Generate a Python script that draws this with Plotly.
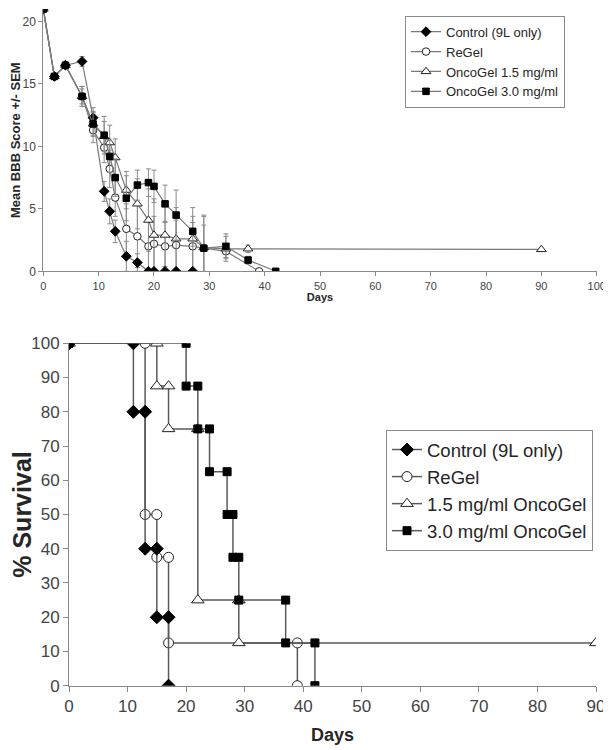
import plotly.graph_objects as go

# ---------------- Top panel data (Mean BBB score +/- SEM) ----------------
days_early = [0, 2, 4, 7, 9, 11, 12, 13, 15, 17, 19, 20, 22, 24, 27]

ctrl_days = days_early
ctrl_bbb = [21, 15.6, 16.5, 16.8, 12.3, 6.4, 4.8, 3.2, 1.2, 0.7, 0, 0, 0, 0, 0]
ctrl_sem = [0, 0, 0, 0.4, 0.8, 0.8, 1.0, 0.9, 1.2, 0.7, 0, 0, 0, 0, 0]

regel_days = days_early + [29, 33, 39]
regel_bbb = [21, 15.6, 16.5, 14.0, 11.3, 9.9, 8.2, 5.9, 3.4, 2.8, 2.0, 2.2, 2.0, 2.1, 2.0, 1.85, 1.6, 0]
regel_sem = [0, 0, 0, 0.8, 1.0, 1.2, 1.5, 1.5, 2.0, 2.5, 2.0, 2.2, 2.0, 2.0, 1.9, 1.85, 0.5, 0]

o15_days = days_early + [29, 33, 37, 90]
o15_bbb = [21, 15.6, 16.5, 14.0, 11.8, 10.8, 10.3, 9.1, 6.5, 5.4, 4.1, 2.9, 2.9, 2.6, 2.6, 1.9, 1.8, 1.8, 1.75]
o15_sem = [0, 0, 0, 0.8, 1.0, 1.2, 1.4, 1.5, 1.5, 2.0, 2.5, 2.9, 2.5, 2.5, 2.5, 2.5, 1.0, 0.3, 0]

o30_days = days_early + [29, 33, 37, 42]
o30_bbb = [21, 15.6, 16.5, 14.0, 11.8, 10.9, 9.2, 7.5, 5.85, 6.9, 7.1, 6.8, 5.4, 4.5, 3.2, 1.85, 2.0, 0.9, 0]
o30_sem = [0, 0, 0, 0.6, 0.9, 1.5, 1.3, 1.5, 1.8, 1.2, 1.1, 1.3, 1.5, 2.0, 1.2, 2.65, 1.0, 0.3, 0]

top_names = ["Control (9L only)", "ReGel", "OncoGel 1.5 mg/ml", "OncoGel 3.0 mg/ml"]
top_xticks = [0, 10, 20, 30, 40, 50, 60, 70, 80, 90, 100]
top_yticks = [0, 5, 10, 15, 20]

# ---------------- Bottom panel data (% survival) ----------------
surv_ctrl_t = [0, 11, 11, 13, 13, 15, 15, 17, 17]
surv_ctrl_s = [100, 100, 80, 80, 40, 40, 20, 20, 0]

surv_regel_t = [0, 13, 13, 15, 15, 17, 17, 39, 39]
surv_regel_s = [100, 100, 50, 50, 37.5, 37.5, 12.5, 12.5, 0]

surv_o15_t = [0, 15, 15, 17, 17, 22, 22, 29, 29, 90]
surv_o15_s = [100, 100, 87.5, 87.5, 75, 75, 25, 25, 12.5, 12.5]

surv_o30_t = [0, 20, 20, 22, 22, 24, 24, 27, 27, 28, 28, 29, 29, 37, 37, 42, 42]
surv_o30_s = [100, 100, 87.5, 87.5, 75, 75, 62.5, 62.5, 50, 50, 37.5, 37.5, 25, 25, 12.5, 12.5, 0]

bottom_names = ["Control (9L only)", "ReGel", "1.5 mg/ml OncoGel", "3.0 mg/ml OncoGel"]
bot_xticks = [0, 10, 20, 30, 40, 50, 60, 70, 80, 90]
bot_yticks = [0, 10, 20, 30, 40, 50, 60, 70, 80, 90, 100]

# page has an 8px body margin; figure sized to fit the 611x750 window
OFF = 8
W, H = 611 - OFF, 750 - OFF
LINE = "#7a7a7a"
TXT = "#262626"
FONT = "Liberation Sans, Arial, sans-serif"

fig = go.Figure()

styles = [
    dict(symbol="diamond", color="black", line=dict(color="black", width=1)),
    dict(symbol="circle", color="white", line=dict(color="#222", width=1)),
    dict(symbol="triangle-up", color="white", line=dict(color="#222", width=1)),
    dict(symbol="square", color="black", line=dict(color="black", width=1)),
]
top_sizes = [7.5, 7.5, 8.5, 6.5]

top_data = [
    (ctrl_days, ctrl_bbb, ctrl_sem),
    (regel_days, regel_bbb, regel_sem),
    (o15_days, o15_bbb, o15_sem),
    (o30_days, o30_bbb, o30_sem),
]
order = [1, 2, 0, 3]
for i in order:
    d, v, e = top_data[i]
    st = styles[i]
    fig.add_trace(go.Scatter(
        x=d, y=v, mode="lines+markers", name=top_names[i],
        line=dict(color=LINE, width=1.2),
        marker=dict(symbol=st["symbol"], color=st["color"], size=top_sizes[i], line=st["line"]),
        error_y=dict(type="data", array=e, visible=True, color="#8a8a8a", thickness=1, width=2.5),
        xaxis="x", yaxis="y", legend="legend", legendrank=i,
    ))

bot_data = [
    (surv_ctrl_t, surv_ctrl_s),
    (surv_regel_t, surv_regel_s),
    (surv_o15_t, surv_o15_s),
    (surv_o30_t, surv_o30_s),
]
bot_sizes = [10, 10, 11, 8]
for i in order:
    t, s = bot_data[i]
    st = styles[i]
    fig.add_trace(go.Scatter(
        x=t, y=s, mode="lines+markers", name=bottom_names[i],
        line=dict(color="#5a5a5a", width=1.5),
        marker=dict(symbol=st["symbol"], color=st["color"], size=bot_sizes[i], line=st["line"]),
        xaxis="x2", yaxis="y2", legend="legend2", legendrank=i,
    ))

def px_x(p):
    return (p - OFF) / W

def px_y(p):
    return 1 - (p - OFF) / H

axis_common = dict(showgrid=False, zeroline=False, showline=True, linecolor="#8a8a8a",
                   linewidth=1, ticks="outside", tickcolor="#8a8a8a", automargin=False)

fig.update_layout(
    width=W, height=H,
    margin=dict(l=0, r=0, t=0, b=0),
    paper_bgcolor="white", plot_bgcolor="white",
    font=dict(family=FONT, color=TXT),
    xaxis=dict(**axis_common, domain=[px_x(43.3), px_x(596.7)], range=[0, 100],
               tickvals=top_xticks, ticklen=4, tickfont=dict(size=11, color="#444"),
               title=dict(text="<b>Days</b>", font=dict(size=11, color=TXT), standoff=2),
               anchor="y"),
    yaxis=dict(**axis_common, domain=[px_y(271.3), px_y(9)], range=[0, 21],
               tickvals=top_yticks, ticklen=4, tickfont=dict(size=12, color="#444"),
               title=dict(text="<b>Mean BBB Score +/- SEM</b>", font=dict(size=13, color=TXT), standoff=5),
               anchor="x"),
    xaxis2=dict(**axis_common, domain=[px_x(69), px_x(596)], range=[0, 90],
                tickvals=bot_xticks, ticklen=5, tickfont=dict(size=17, color="#444"),
                title=dict(text="<b>Days</b>", font=dict(size=18, color=TXT), standoff=13),
                anchor="y2"),
    yaxis2=dict(**axis_common, domain=[px_y(685.7), px_y(343.3)], range=[0, 100],
                tickvals=bot_yticks, ticklen=5, tickfont=dict(size=17, color="#444"),
                title=dict(text="<b>% Survival</b>", font=dict(size=25, color=TXT), standoff=3),
                anchor="x2"),
    legend=dict(x=px_x(405), y=px_y(15.7), xanchor="left", yanchor="top",
                bordercolor="#8a8a8a", borderwidth=1, bgcolor="white",
                font=dict(size=13, color=TXT), tracegroupgap=0, itemwidth=30),
    legend2=dict(x=px_x(386), y=px_y(430), xanchor="left", yanchor="top",
                 bordercolor="#8a8a8a", borderwidth=1, bgcolor="white",
                 font=dict(size=18.5, color=TXT), tracegroupgap=0, itemwidth=30),
    showlegend=True,
)

fig.write_html("out.html")
